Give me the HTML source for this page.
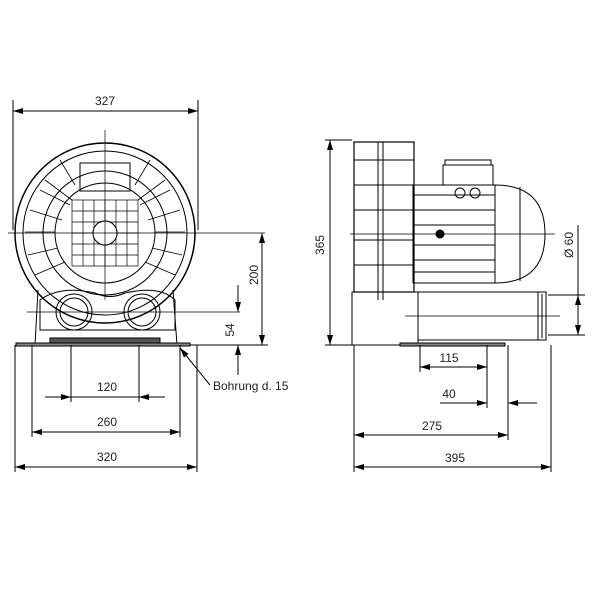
<!DOCTYPE html>
<html><head><style>body{margin:0;background:#fff}svg{display:block}text{font-family:"Liberation Sans",sans-serif;font-size:12px;fill:#222}</style></head><body>
<svg width="600" height="600" viewBox="0 0 600 600" xmlns="http://www.w3.org/2000/svg">
<defs>
<marker id="a" viewBox="0 0 10 6" refX="10" refY="3" markerWidth="10" markerHeight="6" orient="auto-start-reverse" markerUnits="userSpaceOnUse"><path d="M0,0L10,3L0,6z" fill="#000"/></marker>
</defs>
<g stroke="#000" stroke-width="1" fill="none">
<!-- LEFT VIEW -->
<line x1="13" y1="100" x2="13" y2="230"/><line x1="198" y1="100" x2="198" y2="230"/>
<line x1="13" y1="111" x2="198" y2="111" marker-start="url(#a)" marker-end="url(#a)"/>
<circle cx="105" cy="233" r="90" stroke-width="1.5"/>
<circle cx="105" cy="233" r="82"/>
<circle cx="105" cy="233" r="62"/>
<circle cx="105" cy="233" r="50"/>
<circle cx="105" cy="233" r="12"/>
<rect x="80" y="163" width="50" height="28"/>
<g stroke-width="0.8">
<path d="M40,190 L70,205 M30,210 L62,220 M28,255 L58,248 M35,275 L65,262 M170,190 L140,205 M180,210 L148,220 M182,255 L152,248 M175,275 L145,262 M60,160 L75,185 M150,160 L135,185"/>
<path d="M45,180 L72,200 M25,232 L55,232 M185,232 L155,232 M165,180 L138,200"/>
</g>
<g stroke-width="0.7">
<rect x="72" y="200" width="66" height="66"/>
<path d="M72,211H138M72,222H138M72,233H138M72,244H138M72,255H138M83,200V266M94,200V266M105,200V266M116,200V266M127,200V266"/>
</g>
<circle cx="105" cy="233" r="12" fill="#fff"/>
<line x1="8" y1="233" x2="265" y2="233" stroke-width="0.7"/>
<line x1="105" y1="130" x2="105" y2="300" stroke-width="0.7"/>
<!-- ports -->
<path d="M40,300 Q60,285 95,293 Q110,300 125,293 Q160,285 175,300 L175,330 L40,330 Z"/>
<circle cx="74" cy="312" r="18"/><circle cx="74" cy="312" r="14"/>
<circle cx="142" cy="312" r="18"/><circle cx="142" cy="312" r="14"/>
<line x1="27" y1="312" x2="240" y2="312" stroke-width="0.7"/>
<path d="M35,345 L38,290 M177,345 L173,290"/>
<rect x="16" y="343" width="174" height="3" fill="#888"/>
<rect x="50" y="338" width="110" height="5" fill="#555"/>
<!-- 200, 54 -->
<line x1="190" y1="345" x2="268" y2="345"/>
<line x1="262" y1="233" x2="262" y2="345" marker-start="url(#a)" marker-end="url(#a)"/>
<line x1="238" y1="285" x2="238" y2="312" marker-end="url(#a)"/>
<line x1="238" y1="375" x2="238" y2="345" marker-end="url(#a)"/>
<!-- bottom ext left -->
<path d="M15,345V472M32,345V437M71,345V402M139,345V402M180,345V437M197,345V472"/>
<line x1="45" y1="397" x2="71" y2="397" marker-end="url(#a)"/>
<line x1="165" y1="397" x2="139" y2="397" marker-end="url(#a)"/>
<line x1="71" y1="397" x2="139" y2="397"/>
<line x1="32" y1="432" x2="180" y2="432" marker-start="url(#a)" marker-end="url(#a)"/>
<line x1="15" y1="467" x2="197" y2="467" marker-start="url(#a)" marker-end="url(#a)"/>
<line x1="210" y1="385" x2="180" y2="348" marker-end="url(#a)"/>
<!-- RIGHT VIEW -->
<line x1="325" y1="140" x2="352" y2="140"/>
<line x1="325" y1="345" x2="352" y2="345"/>
<line x1="330" y1="140" x2="330" y2="345" marker-start="url(#a)" marker-end="url(#a)"/>
<rect x="354" y="142" width="60" height="150" stroke-width="1.2"/>
<path d="M383,142V300M378,142V300M354,160H414M354,185H414M354,210H414M354,240H414M354,265H414"/>
<rect x="352" y="292" width="66" height="53"/>
<rect x="413" y="185" width="82" height="98"/>
<path d="M413,195H495M413,210H495M413,225H495M413,245H495M413,260H495M413,272H495"/>
<path d="M495,185 Q545,185 545,234 Q545,283 495,283"/>
<line x1="520" y1="187" x2="520" y2="281"/>
<rect x="443" y="165" width="50" height="20"/>
<rect x="445" y="160" width="46" height="5"/>
<circle cx="460" cy="193" r="5"/><circle cx="475" cy="193" r="5"/>
<rect x="418" y="292" width="128" height="48"/>
<path d="M538,292V340M542,294V338"/>
<rect x="400" y="343" width="105" height="3" fill="#888"/>
<line x1="350" y1="234" x2="555" y2="234" stroke-width="0.7"/>
<line x1="405" y1="316" x2="560" y2="316" stroke-width="0.7"/>
<circle cx="440" cy="234" r="4" fill="#000"/>
<!-- Ø60 -->
<path d="M548,295H585M548,335H585"/>
<line x1="578" y1="225" x2="578" y2="295"/>
<line x1="578" y1="315" x2="578" y2="295" marker-end="url(#a)"/>
<line x1="578" y1="315" x2="578" y2="335" marker-end="url(#a)"/>
<!-- right bottom -->
<path d="M354,345V472M420,345V372M487,345V408M508,345V440M551,345V472"/>
<line x1="420" y1="367" x2="487" y2="367" marker-start="url(#a)" marker-end="url(#a)"/>
<line x1="440" y1="403" x2="487" y2="403" marker-end="url(#a)"/>
<line x1="537" y1="403" x2="508" y2="403" marker-end="url(#a)"/>
<line x1="354" y1="435" x2="508" y2="435" marker-start="url(#a)" marker-end="url(#a)"/>
<line x1="354" y1="467" x2="551" y2="467" marker-start="url(#a)" marker-end="url(#a)"/>
</g>
<text x="105" y="105" text-anchor="middle">327</text>
<text transform="translate(258,275) rotate(-90)" text-anchor="middle">200</text>
<text transform="translate(234,330) rotate(-90)" text-anchor="middle">54</text>
<text x="107" y="391" text-anchor="middle">120</text>
<text x="107" y="426" text-anchor="middle">260</text>
<text x="107" y="461" text-anchor="middle">320</text>
<text x="213" y="390" font-size="11">Bohrung d. 15</text>
<text transform="translate(324,245) rotate(-90)" text-anchor="middle">365</text>
<text transform="translate(573,245) rotate(-90)" text-anchor="middle">Ø 60</text>
<text x="449" y="362" text-anchor="middle">115</text>
<text x="449" y="398" text-anchor="middle">40</text>
<text x="432" y="430" text-anchor="middle">275</text>
<text x="455" y="462" text-anchor="middle">395</text>
</svg>
</body></html>
